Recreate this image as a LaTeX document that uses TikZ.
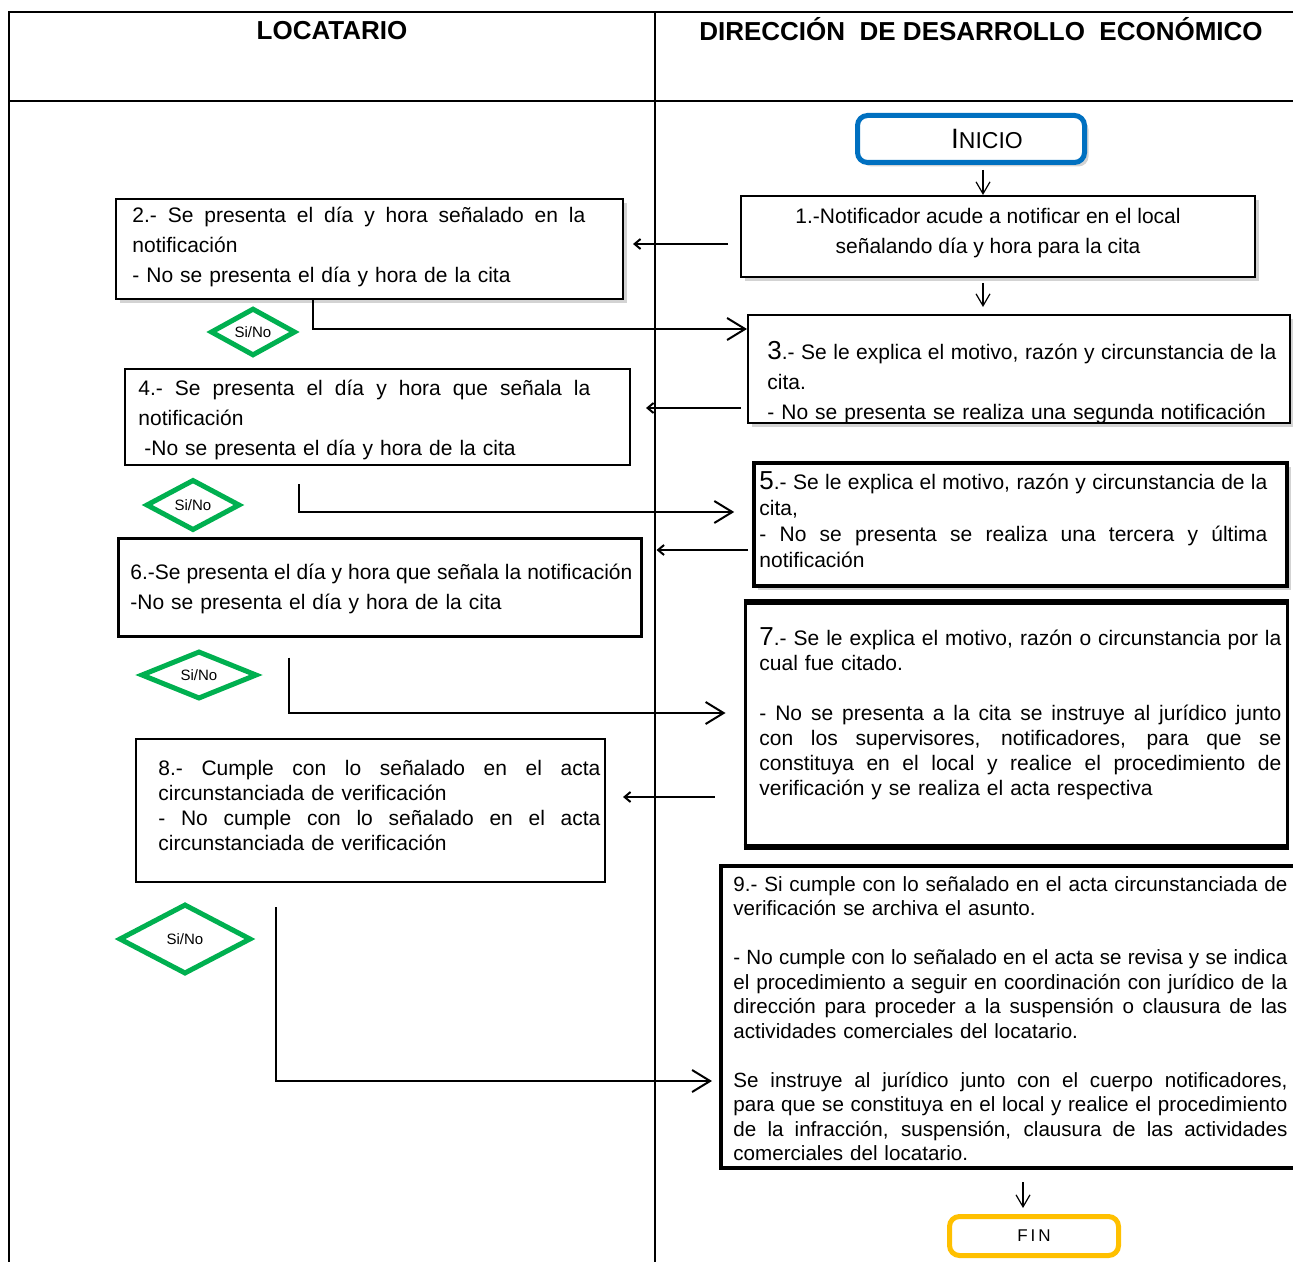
\documentclass[tikz,border=0pt]{standalone}
\usepackage{fontspec}
\setmainfont{Liberation Sans}
\usetikzlibrary{arrows.meta,shapes.geometric,shadows}

\definecolor{inicioazul}{RGB}{0,112,192}
\definecolor{verdedec}{RGB}{0,176,80}
\definecolor{finamarillo}{RGB}{255,192,0}

% renglon justificado a todo el ancho del nodo
\newcommand{\jline}[1]{\makebox[\hsize][s]{\spaceskip=0pt\xspaceskip=0pt #1}}
\newcommand{\numgrande}[1]{{\fontsize{13}{15}\selectfont #1}}

\tikzset{
  caja/.style={draw, fill=white, line width=1pt, inner sep=0pt},
  sombra/.style={drop shadow={shadow xshift=2pt, shadow yshift=-2pt, opacity=0.35}},
  texto/.style={anchor=base west, inner sep=0pt, font=\fontsize{10.5}{15}\selectfont},
  decision/.style={diamond, draw=verdedec, line width=2.5pt, inner sep=0pt, fill=white, font=\fontsize{7.5}{8}\selectfont},
  carril/.style={line width=0.8pt},
  toleft/.style={line width=1pt, -{Straight Barb[length=3pt,width=5pt]}},
  toright/.style={line width=1pt, -{Straight Barb[length=9pt,width=11pt]}},
  todown/.style={line width=0.6pt, -{Straight Barb[length=6pt,width=7pt]}},
}

\begin{document}
\begin{tikzpicture}[x=0.5pt, y=-0.5pt]
\useasboundingbox (0,0) rectangle (1293,1262);

% carriles
\draw[carril] (1293,12) -- (9,12) -- (9,1262);
\draw[carril] (9,101) -- (1293,101);
\draw[carril] (655,12) -- (655,1262);
\node[font=\fontsize{13}{15}\bfseries\selectfont] (loc) at (332,31) {LOCATARIO};
\node[font=\fontsize{13}{15}\bfseries\selectfont] (dir) at (981,29) {DIRECCIÓN~ DE DESARROLLO~ ECONÓMICO};

% inicio y fin
\node[draw=inicioazul, line width=2.5pt, rounded corners=5pt, fill=white, sombra,
      minimum width=113.5pt, minimum height=23.5pt] (inicio) at (971,139)
      {\hspace*{16pt}{\fontsize{14}{14}\selectfont I}{\fontsize{11.5}{14}\selectfont NICIO}};
\node[draw=finamarillo, line width=2.5pt, rounded corners=5pt, fill=white,
      minimum width=84.5pt, minimum height=19.5pt, font=\fontsize{8.5}{10}\selectfont] (fin) at (1034,1236) {F\,I\,N};

% cajas
\node[caja, sombra, minimum width=257pt, minimum height=40.5pt] (b1) at (998,236.5) {};
\node[caja, sombra, minimum width=253.5pt, minimum height=50pt] (b2) at (369.5,249) {};
\node[caja, sombra, minimum width=271pt, minimum height=54pt] (b3) at (1019,369) {};
\node[caja, minimum width=252.5pt, minimum height=48pt] (b4) at (377.5,417) {};
\node[caja, sombra, line width=1.8pt, minimum width=266.5pt, minimum height=61.5pt] (b5) at (1020.5,524.5) {};
\node[caja, line width=1.5pt, minimum width=261.5pt, minimum height=49pt] (b6) at (379.5,587) {};
\node[caja, line width=1.5pt, minimum width=271pt, minimum height=121pt] (b7) at (1016,724) {};
\draw[line width=3pt] (b7.north west) -- (b7.north east);
\draw[line width=3pt] (b7.south west) -- (b7.south east);
\node[caja, minimum width=234.5pt, minimum height=71.5pt] (b8) at (370.5,810.5) {};
\node[caja, line width=2pt, minimum width=289.5pt, minimum height=151pt] (b9) at (1010.5,1017) {};

% textos
\node[font=\fontsize{10.5}{15}\selectfont, align=center, inner sep=0pt] (t1) at (988,233)
  {1.-Notificador acude a notificar en el local\\señalando día y hora para la cita};
\node[texto, text width=226.5pt] (t2) at (132,223)
  {\jline{2.- Se presenta el día y hora señalado en la}\\notificación\\- No se presenta el día y hora de la cita};
\node[texto, text width=254.5pt] (t3) at (767,359)
  {\jline{\numgrande{3}.- Se le explica el motivo, razón y circunstancia de la}\\cita.\\\mbox{- No se presenta se realiza una segunda notificación}};
\node[texto, text width=226pt] (t4) at (138,395)
  {\jline{4.- Se presenta el día y hora que señala la}\\notificación\\\hspace*{3pt}-No se presenta el día y hora de la cita};
\node[texto, text width=254pt, font=\fontsize{10.5}{13}\selectfont] (t5) at (759,489)
  {\jline{\numgrande{5}.- Se le explica el motivo, razón y circunstancia de la}\\cita,\\\jline{- No se presenta se realiza una tercera y última}\\notificación};
\node[texto, text width=251pt] (t6) at (130,579)
  {\jline{6.-Se presenta el día y hora que señala la notificación}\\-No se presenta el día y hora de la cita};
\node[texto, text width=261pt, font=\fontsize{10.5}{12.5}\selectfont] (t7) at (759,645)
  {\jline{\numgrande{7}.- Se le explica el motivo, razón o circunstancia por la}\\cual fue citado.\\[12.5pt]%
   \jline{- No se presenta a la cita se instruye al jurídico junto}\\\jline{con los supervisores, notificadores, para que se}\\%
   \jline{constituya en el local y realice el procedimiento de}\\verificación y se realiza el acta respectiva};
\node[texto, text width=221pt, font=\fontsize{10.5}{12.5}\selectfont] (t8) at (158,775)
  {\jline{8.- Cumple con lo señalado en el acta}\\circunstanciada de verificación\\\jline{- No cumple con lo señalado en el acta}\\circunstanciada de verificación};
\node[texto, text width=277pt, font=\fontsize{10.3}{12.25}\selectfont] (t9) at (733,891)
  {\jline{9.- Si cumple con lo señalado en el acta circunstanciada de}\\verificación se archiva el asunto.\\[12.25pt]%
   \jline{- No cumple con lo señalado en el acta se revisa y se indica}\\\jline{el procedimiento a seguir en coordinación con jurídico de la}\\%
   \jline{dirección para proceder a la suspensión o clausura de las}\\actividades comerciales del locatario.\\[12.25pt]%
   \jline{Se instruye al jurídico junto con el cuerpo notificadores,}\\\jline{para que se constituya en el local y realice el procedimiento}\\%
   \jline{de la infracción, suspensión, clausura de las actividades}\\comerciales del locatario.};

% decisiones
\node[decision, minimum width=42.5pt, minimum height=20.5pt] (d1) at (253,332) {Si/No};
\node[decision, minimum width=47pt, minimum height=25.5pt] (d2) at (193,505) {Si/No};
\node[decision, minimum width=58pt, minimum height=24pt] (d3) at (199,675) {Si/No};
\node[decision, minimum width=66pt, minimum height=35pt] (d4) at (185,939) {Si/No};

% flechas
\draw[todown, shorten <=2.5pt] (inicio.south -| 983,0) -- (b1.north -| 983,0);
\draw[todown, shorten <=2.5pt, shorten >=3.5pt] (b1.south -| 983,0) -- (b3.north -| 983,0);
\draw[todown, shorten <=6pt, shorten >=3pt] (b9.south -| 1023,0) -- (fin.north -| 1023,0);

\draw[toleft, shorten <=6pt, shorten >=4.5pt] (b1.west |- 0,244) -- (b2.east |- 0,244);
\draw[toleft, shorten <=3pt, shorten >=7.5pt] (b3.west |- 0,408) -- (b4.east |- 0,408);
\draw[toleft, shorten <=2pt, shorten >=7pt] (b5.west |- 0,550) -- (b6.east |- 0,550);
\draw[toleft, shorten <=14.5pt, shorten >=8.5pt] (b7.west |- 0,797) -- (b8.east |- 0,797);

\draw[toright] (b2.south -| 313,0) |- (b3.west |- 0,329);
\draw[toright, shorten <=9pt, shorten >=9pt] (b4.south -| 299,0) |- (b5.west |- 0,512);
\draw[toright, shorten <=10pt, shorten >=9pt] (b6.south -| 289,0) |- (b7.west |- 0,713);
\draw[toright, shorten <=12pt, shorten >=3.5pt] (b8.south -| 276,0) |- (b9.west |- 0,1081);
\end{tikzpicture}
\end{document}
